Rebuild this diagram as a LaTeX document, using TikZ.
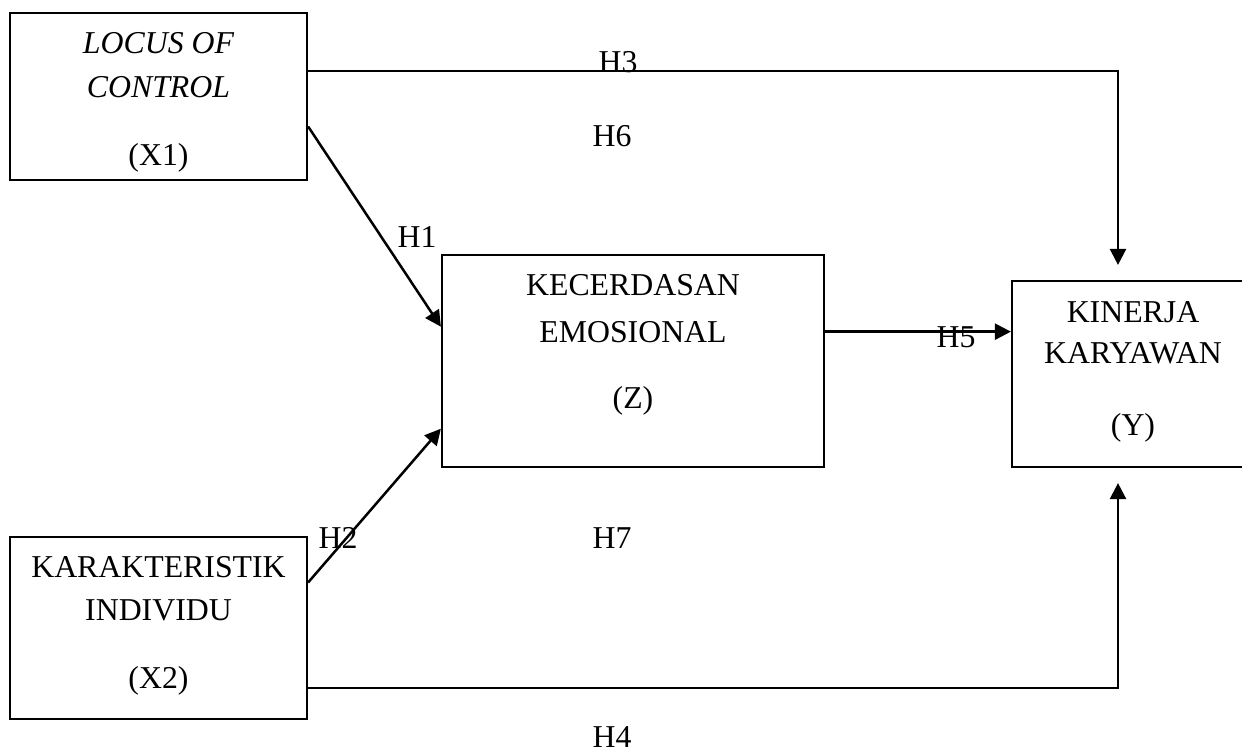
\documentclass[tikz,border=0pt]{standalone}
\usepackage{fontspec}
\setmainfont{Liberation Serif}
\usetikzlibrary{arrows.meta,calc}

\tikzset{
  varbox/.style={draw, line width=1.1pt, inner sep=0pt, fill=none},
  boxline/.style={inner sep=0pt, text height=10.5pt, text depth=0pt,
                  font=\fontsize{15.9}{18}\selectfont},
  hyp/.style={boxline},
  conn/.style={line width=1.25pt, line join=miter},
  arrowconn/.style={conn, -{Triangle[length=8pt,width=8pt]}},
}

\begin{document}
\begin{tikzpicture}[x=0.5pt,y=-0.5pt]
  \useasboundingbox (0,0) rectangle (1242,749);

  % variable boxes
  \node[varbox, minimum width=148.5pt, minimum height=83.5pt] (x1) at (158.5,96.5) {};
  \node[varbox, minimum width=148.5pt, minimum height=91pt]   (x2) at (158.5,628) {};
  \node[varbox, minimum width=191pt,   minimum height=106pt]  (z)  at (633,361) {};
  \node[varbox, minimum width=121pt,   minimum height=93pt]   (y)  at (1133,374) {};

  % box captions
  \node[boxline, font=\fontsize{15.9}{18}\selectfont\itshape] (x1a) at (158.5,43) {LOCUS OF};
  \node[boxline, font=\fontsize{15.9}{18}\selectfont\itshape] (x1b) at (158.5,87) {CONTROL};
  \node[boxline] (x1c) at (158.5,155) {(X1)};

  \node[boxline] (x2a) at (158.5,567) {KARAKTERISTIK};
  \node[boxline] (x2b) at (158.5,610) {INDIVIDU};
  \node[boxline] (x2c) at (158.5,678) {(X2)};

  \node[boxline] (za) at (633,285) {KECERDASAN};
  \node[boxline] (zb) at (633,332) {EMOSIONAL};
  \node[boxline] (zc) at (633,398) {(Z)};

  \node[boxline] (ya) at (1133,312) {KINERJA};
  \node[boxline] (yb) at (1133,353) {KARYAWAN};
  \node[boxline] (yc) at (1133,425) {(Y)};

  % turning points of the two long paths
  \coordinate (topturn) at (1118,71);
  \coordinate (botturn) at (1118,688);

  % H3: X1 -> Y (over the top)
  \draw[arrowconn, shorten >=7.5pt] (x1.east |- topturn) -- (topturn) -- (y.north -| topturn);
  % H4: X2 -> Y (along the bottom)
  \draw[arrowconn, shorten >=7.5pt] (x2.east |- botturn) -- (botturn) -- (y.south -| botturn);

  % H1 and H2: into Z
  \draw[arrowconn] ($(x1.north east)!0.677!(x1.south east)$) -- ($(z.north west)!0.34!(z.south west)$);
  \draw[arrowconn] ($(x2.north east)!0.253!(x2.south east)$) -- ($(z.north west)!0.816!(z.south west)$);

  % H5: Z -> Y
  \coordinate (h5s) at ($(z.north east)!0.363!(z.south east)$);
  \draw[arrowconn] (h5s) -- (y.west |- h5s);

  % hypothesis labels
  \node[hyp] (h3) at (618,62) {H3};
  \node[hyp] (h6) at (612,136) {H6};
  \node[hyp] (h1) at (417,237) {H1};
  \node[hyp] (h5) at (956,337) {H5};
  \node[hyp] (h2) at (338,538) {H2};
  \node[hyp] (h7) at (612,538) {H7};
  \node[hyp] (h4) at (612,737) {H4};
\end{tikzpicture}
\end{document}
